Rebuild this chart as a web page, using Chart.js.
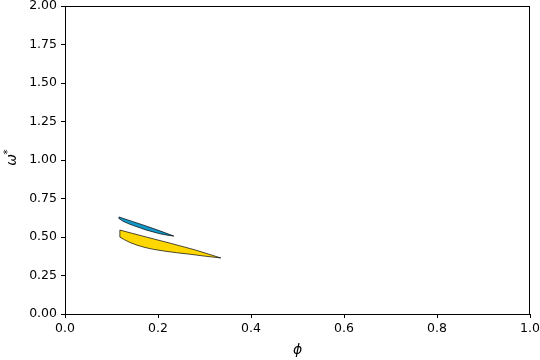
<!DOCTYPE html>
<html>
<head>
<meta charset="utf-8">
<script src="https://cdn.jsdelivr.net/npm/chart.js@4/dist/chart.umd.min.js"></script>
<style>
  body { margin: 0; background: #fff; }
  #wrap { width: 540px; height: 360px; }
</style>
</head>
<body>
<div id="wrap"><canvas id="chart" width="540" height="360"></canvas></div>
<script>
// blue region outline (phi, omega*), closed polygon
const bluePhi   = [0.116, 0.145, 0.174, 0.204, 0.234, 0.220, 0.204, 0.174, 0.140, 0.125, 0.116, 0.116];
const blueOmega = [0.630, 0.601, 0.572, 0.540, 0.506, 0.512, 0.521, 0.546, 0.582, 0.602, 0.620, 0.630];

// yellow region outline
const yellowPhi   = [0.118, 0.172, 0.226, 0.280, 0.335, 0.300, 0.269, 0.240, 0.215, 0.190, 0.172, 0.155, 0.140, 0.128, 0.118, 0.118];
const yellowOmega = [0.545, 0.502, 0.460, 0.416, 0.364, 0.376, 0.388, 0.398, 0.408, 0.420, 0.432, 0.447, 0.464, 0.482, 0.500, 0.545];

const xTicks = [0, 0.2, 0.4, 0.6, 0.8, 1.0];
const yTicks = [0, 0.25, 0.5, 0.75, 1.0, 1.25, 1.5, 1.75, 2.0];

function toPoints(xs, ys) {
  return xs.map((x, i) => ({ x: x, y: ys[i] }));
}

const font = { family: "DejaVu Sans", size: 12.5 };

// ramecek kolem grafu + popisky os
const frame = {
  id: "frame",
  afterDraw(chart) {
    const ctx = chart.ctx;
    const a = chart.chartArea;
    ctx.save();
    ctx.strokeStyle = "#000";
    ctx.lineWidth = 1;
    ctx.strokeRect(a.left + 0.5, a.top + 0.5, a.right - a.left - 1, a.bottom - a.top);
    ctx.fillStyle = "#000";
    ctx.font = "italic 14px 'DejaVu Sans'";
    ctx.textAlign = "center";
    ctx.textBaseline = "middle";
    ctx.fillText("ϕ", (a.left + a.right) / 2, 350);
    ctx.translate(12, (a.top + a.bottom) / 2);
    ctx.rotate(-Math.PI / 2);
    ctx.fillText("ω", 0, 0);
    ctx.font = "10px 'DejaVu Sans'";
    ctx.fillText("*", 8, -4);
    ctx.restore();
  }
};

new Chart(document.getElementById("chart"), {
  type: "scatter",
  data: {
    datasets: [
      {
        data: toPoints(yellowPhi, yellowOmega),
        showLine: true,
        fill: "shape",
        backgroundColor: "#ffd700",
        borderColor: "#000",
        borderWidth: 0.7,
        pointRadius: 0,
        tension: 0
      },
      {
        data: toPoints(bluePhi, blueOmega),
        showLine: true,
        fill: "shape",
        backgroundColor: "#1297c9",
        borderColor: "#000",
        borderWidth: 0.7,
        pointRadius: 0,
        tension: 0
      }
    ]
  },
  options: {
    responsive: false,
    animation: false,
    layout: { padding: { top: 6, right: 10, left: 0, bottom: 0 } },
    plugins: { legend: { display: false }, tooltip: { enabled: false } },
    scales: {
      x: {
        type: "linear",
        min: 0, max: 1,
        afterBuildTicks: s => { s.ticks = xTicks.map(v => ({ value: v })); },
        afterFit: s => { s.height = 46; s.paddingLeft = 0; s.paddingRight = 0; },
        ticks: { color: "#000", font: font, padding: 3, maxRotation: 0, callback: v => v.toFixed(1) },
        grid: { drawOnChartArea: false, tickLength: 4, color: "#000" },
        border: { display: false }
      },
      y: {
        type: "linear",
        min: 0, max: 2,
        afterBuildTicks: s => { s.ticks = yTicks.map(v => ({ value: v })); },
        afterFit: s => { s.width = 65; s.paddingTop = 0; s.paddingBottom = 0; },
        ticks: { color: "#000", font: font, padding: 4, callback: v => v.toFixed(2) },
        grid: { drawOnChartArea: false, tickLength: 4, color: "#000" },
        border: { display: false }
      }
    }
  },
  plugins: [frame]
});
</script>
</body>
</html>
